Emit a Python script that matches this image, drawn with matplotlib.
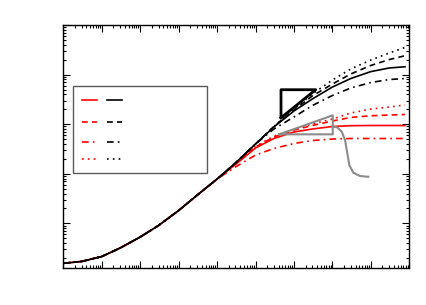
import matplotlib
matplotlib.use("Agg")
import matplotlib.pyplot as plt
from matplotlib.patches import Rectangle
from matplotlib.ticker import LogLocator, NullFormatter

# time grid shared by all curves
t = [1e-3, 3e-3, 1e-2, 3e-2, 1e-1, 3e-1, 1, 3, 10, 30, 100, 300,
     1e3, 3e3, 1e4, 3e4, 1e5, 3e5, 7.7e5]

# early part common to every curve (t <= 10)
common = [1.57e-3, 1.71e-3, 2.15e-3, 3.19e-3, 5.32e-3, 9.08e-3,
          0.0182, 0.0369, 0.0785]

# black set, t >= 30
black_solid = [0.165, 0.399, 0.879, 1.85, 3.22, 5.62, 8.34, 11.5, 13.6, 14.4]
black_dashed = [0.165, 0.399, 0.90, 1.93, 3.71, 6.46, 10.3, 15.3, 20.1, 24.0]
black_dashdot = [0.165, 0.399, 0.80, 1.40, 2.38, 3.79, 5.37, 6.93, 7.96, 8.34]
black_dotted = [0.165, 0.399, 0.90, 2.02, 4.06, 7.78, 13.0, 19.7, 27.2, 35.2]

# red set, t >= 30
red_solid = [0.154, 0.331, 0.515, 0.697, 0.80, 0.90, 0.933, 0.942, 0.942, 0.942]
red_dashed = [0.159, 0.347, 0.552, 0.764, 0.942, 1.16, 1.37, 1.48, 1.53, 1.57]
red_dashdot = [0.137, 0.239, 0.324, 0.408, 0.469, 0.503, 0.515, 0.515, 0.515, 0.515]
red_dotted = [0.159, 0.355, 0.578, 0.80, 1.01, 1.27, 1.68, 2.02, 2.22, 2.44]

# slope triangles and the grey curve
tri_black_x = [460, 460, 3680, 460]
tri_black_y = [1.35, 4.96, 4.96, 1.35]
tri_grey_x = [416, 1.02e4, 1.02e4, 416]
tri_grey_y = [0.625, 0.625, 1.51, 0.625]
grey_x = [1.02e4, 1.34e4, 1.75e4, 2.13e4, 2.44e4, 2.75e4, 3.5e4, 5.23e4, 7.82e4, 8.6e4]
grey_y = [0.891, 0.866, 0.706, 0.48, 0.259, 0.15, 0.105, 0.0904, 0.0875, 0.0875]

styles = ['-', (0, (3.5, 2.5)), (0, (4, 2.5, 1, 2.5)), (0, (1, 2.5))]
black = [black_solid, black_dashed, black_dashdot, black_dotted]
red = [red_solid, red_dashed, red_dashdot, red_dotted]

fig = plt.figure(figsize=(4.26, 3.05), dpi=100)
ax = fig.add_axes([0.1486, 0.1223, 0.8122, 0.7957])

for ys, ls in zip(red, styles):
    ax.plot(t, common + ys, color='red', ls=ls, lw=1.2)
for ys, ls in zip(black, styles):
    ax.plot(t, common + ys, color='black', ls=ls, lw=1.2)

ax.plot(tri_black_x, tri_black_y, color='black', lw=2)
ax.plot(tri_grey_x, tri_grey_y, color='0.55', lw=1.5)
ax.plot(grey_x, grey_y, color='0.55', lw=1.5)

ax.set_xscale('log')
ax.set_yscale('log')
ax.set_xlim(1e-3, 1e6)
ax.set_ylim(1.28e-3, 1e2)

for axis in (ax.xaxis, ax.yaxis):
    axis.set_major_locator(LogLocator(base=10, numticks=20))
    axis.set_minor_locator(LogLocator(base=10, subs=range(2, 10), numticks=20))
    axis.set_major_formatter(NullFormatter())
    axis.set_minor_formatter(NullFormatter())
ax.tick_params(which='both', direction='in', top=True, right=True, width=0.8)
ax.tick_params(which='major', length=5)
ax.tick_params(which='minor', length=2.5)
for sp in ax.spines.values():
    sp.set_linewidth(1.0)

# legend box (labels empty)
ax.add_patch(Rectangle((0.029, 0.391), 0.387, 0.358, transform=ax.transAxes,
                       fill=False, edgecolor='0.35', lw=1.0))
rows = [0.690, 0.599, 0.518, 0.448]
for yr, ls in zip(rows, styles):
    ax.plot([0.054, 0.098], [yr, yr], color='red', ls=ls, lw=1.2, transform=ax.transAxes)
    ax.plot([0.126, 0.170], [yr, yr], color='black', ls=ls, lw=1.2, transform=ax.transAxes)

fig.savefig('out.png', dpi=100)
